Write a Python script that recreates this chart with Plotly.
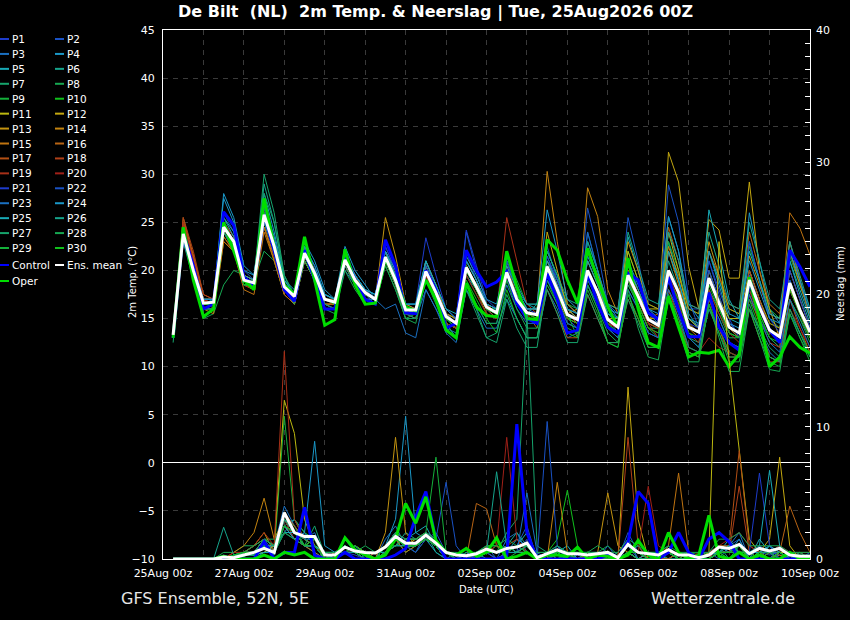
import plotly.graph_objects as go
import pandas as pd

# 6-hourly steps from 25Aug 06z to 10Sep 00z
times = pd.date_range("2026-08-25 06:00", periods=64, freq="6h")

# 2m temperature (deg C)
T_ENS = [13.3,23.8,20.0,16.6, 16.7,24.5,23.0,19.0, 18.7,25.8,22.5,18.3, 17.3,21.8,19.7,17.0, 16.7,21.1,19.0,17.7, 17.0,21.4,19.0,15.9, 15.9,19.9,17.7,15.2, 14.5,20.3,18.3,16.2, 15.6,19.8,17.0,15.6, 15.4,20.4,18.0,15.4, 14.9,20.0,17.7,14.9, 14.1,19.5,17.3,14.9, 14.3,20.0,17.7,14.1, 13.6,19.2,16.6,14.1, 13.5,19.0,16.2,13.8, 13.1,18.7,15.9,13.6]
T_CTRL = [13,24,20.5,16, 16.5,26.1,24.7,19.3, 18.5,25.8,22,18, 16.8,22.1,19,16, 16,21.4,19,17, 16.5,23.2,20.5,15.6, 15.5,20,18,14, 14.5,22.1,20,18.3, 18.8,19.9,16.6,15, 14.5,19.7,17,13.5, 13.8,19.7,16.6,14.1, 13.5,19.7,19,15.6, 14.9,19.3,15.9,13.1, 13.1,17.7,14.1,12.5, 11.7,18.7,16.2,13.8, 12.5,22.1,20.4,18.3]
T_OPER = [13,24.5,19,15.2, 16,25,22,19, 18,27.5,22.5,18.5, 17.5,23.5,19,14.3, 14.9,22.2,18.5,16.5, 16.6,21.3,19,16.2, 15.8,19,17,13.8, 13,18.7,16.2,15.3, 15.2,22,18.3,15, 14.9,23.2,22.1,19, 16.6,22.3,19,16.2, 14.1,21.3,16,12.5, 12,17.3,14.1,11, 11.5,11.4,11.7,10, 11.3,19.3,14.9,10, 11,13.1,12,11.4]

T_P1 = [13,24,21,17, 17,26,24,19.5, 19,27,23,18.5, 17.5,23,20,17, 16.5,22,19.5,17.5, 16.5,22.5,20,16.5, 16,21,18,15, 14,22,19,16, 15,21,18,15, 14.5,21.5,18.5,15, 14,19,17,14, 13,18,16,13.5, 13,22,19,15, 14,21,18,15, 13,20,17,14, 12.5,20,17,14]
T_P2 = [13.5,23.5,20,16.5, 16.5,25,23,19, 18.5,26,22,18, 17,22,20,17.5, 17,21,19.5,18, 17.5,22,19.5,16, 16,20,17.5,15, 14.5,24,20,16.5, 16,20,16.5,15, 15,22.5,19,16, 15,24,20,16, 15,21,18,15.5, 15,24,21,16, 16,21,17.5,14, 13,17,15,13, 12,22,19,16]
T_P3 = [13,24.5,20.5,16.5, 16.5,24,22.5,18.5, 18.5,25,22,18, 17,21,19,16.5, 16,20.5,18.5,17, 17,21,18.5,15.5, 15,18,16,13.5, 12.5,18,16,14, 14,17,15,13, 13,18,16,13, 13.5,24,20,15, 13.5,19,16,12.5, 12,18,15.5,12, 11.5,16,14,11.5, 11,16,14,11.5, 10.5,15.5,13.5,11.5]
T_P4 = [13,23,20,17, 17,27.5,25,20, 19.5,28,24,19, 18,23,21,18, 17,22.5,20,18.5, 17,22,19.5,16, 16,20.5,18,15.5, 14.5,19.5,18,16, 16,20,17,16, 16,21,19,16.5, 15.5,23,20,16.5, 15,20,17.5,15.5, 14.5,25.6,22,15.5, 14,20,17,14.5, 14,26,21,16, 14.5,23,19,15]
T_P5 = [13.5,24,20,16.5, 16.5,25.5,24,19.5, 19,26.5,23,18.5, 17.5,22.5,20,17, 16.5,21,19,17.5, 17,21,19,16, 16,20,18,15.5, 15,21,19,16.5, 16,21,18,16.5, 16,22,19.5,16, 15,21,18.5,15.5, 14.5,23.5,20,16, 15,23,19,15, 14,22,18.5,15, 14.5,23,19,15, 14,21,17.5,14.5]
T_P6 = [13,23.5,19.5,16, 16,24,22,18.5, 18.5,29,25,19, 17.5,22,20,17, 17,21.5,19,17.5, 17,21,19,16, 16,20,17.5,15, 14,20,18,16, 15.5,19.5,17,15.5, 15.5,20,17.5,15, 15,20,17.5,15, 14,19,17,14.5, 14,21,18,14, 13.5,18,16,13.5, 13,20,17,14, 13,19,16,13.5]
T_P7 = [12.5,24,20.5,17, 17,25,23.5,19, 19,28,25,19.5, 17,21.5,19.5,16.5, 16,20.5,18.5,17, 17,21,18.5,15, 15,19,17,14.5, 13,18,16,13, 12.5,17,14,12, 12,19,17,14.5, 14,19,17,14, 13,18.5,16.5,14, 14,19,16.5,13, 12.5,17,15,12.5, 12,16,14,12, 11,17,15,13]
T_P8 = [13,23,19,15, 15.5,18.5,20,19.5, 19,22,21,17.5, 16.5,21,19,16, 16,20.5,18.5,17, 16.5,20.5,18,15, 15.5,19,17,14.5, 14,19.5,17.5,15.5, 15,19,16.5,15, 15,19.5,17,15, 14.5,20,17.5,14.5, 13.5,18.5,16.5,14, 13,19,16.5,13, 12,18,15.5,13, 13,18,15.5,13, 12,17,15,12.5]
T_P9 = [13,24,20.5,16.5, 16.5,24.5,23,19, 18.5,25.5,22,18, 17,22.5,20,17, 17,21,19,18, 17,21.5,19,16, 15.5,19.5,17.5,15, 14.5,20,18,16, 16,21.5,19,16.5, 16.5,22,19.5,16.5, 16,22,19.5,16.5, 15.5,22,19,16.5, 16,23,20,16, 15.5,22,19,16, 15.5,22.5,19,16, 15,21.5,18.5,15.5]
T_P10 = [13.5,24,20,16.5, 16.5,25,23,19, 18.5,26,22.5,18, 17,21.5,19.5,17, 16.5,21,19,17.5, 17,21,19,16, 15.5,20,17.5,15, 14,19,17,15, 13.5,18,15,13, 13,19,16.5,13.5, 13,18.5,16,12.5, 12,17.5,15,12.5, 12,17,14.5,11.5, 11,16.5,14,11.5, 11,17,14,11, 10.5,16,13.5,11.5]
T_P11 = [13.5,24.5,21,17, 17,24.5,23,19.5, 19,26,22.5,18.5, 17.5,22,20,17.5, 17,21.5,19.5,17.5, 17,22,19.5,16, 16,20.5,18,15.5, 15,21,19,16.5, 16,21,18,16, 16,20,17,15, 14.5,20,18,15, 15,22,19,16, 16,24,20,15, 14,19,17,15, 15,20,17,14.5, 14,18,16,14]
T_P12 = [13,24,20,16.5, 16.5,24,22.5,18.5, 18.5,25,22,18, 17,21,19,16.5, 16.5,21,19,17.5, 17,21,18.5,15.5, 15.5,19.5,17,14.5, 14,20,18,16, 15.5,20,17,15.5, 15.5,24,20,16, 15,22,19,15, 14.5,20,18,15, 15,32.3,29.2,20.4, 16,25.3,24.2,19.2, 19.2,29.2,20,16, 13,20,17,14]
T_P13 = [13.5,25,21.5,17, 17,23.5,22,18.5, 18,24.5,21.5,18, 16.5,21.5,19.5,17, 16.5,21,19,17.5, 17,25.5,21.5,16.5, 16,21,18.5,15.5, 15,20.5,18.5,16.5, 15.5,20,17,15.5, 15,20,18,15.5, 16,22,19.5,16.5, 16,23,20,16.5, 16,22.5,19.5,16, 15.5,23,19.5,16, 15.5,21.5,18.5,15.5, 15,22,18.5,15.5]
T_P14 = [13,24,20,16, 15.5,23,22,18.5, 18,24.5,21,17.5, 16.5,21.5,19.5,17, 16.5,21,19,17.5, 17,22,19.5,16, 15.5,20,17.5,15, 14.5,20,18,16, 15.5,20,17.5,16, 16,30.3,23,16.5, 15.5,28.6,25.6,18, 15.5,20,17.5,15, 14.5,22,18.5,14.5, 13.5,20,17,14.5, 13.5,19.5,16.5,13.5, 13,18,15.5,13]
T_P15 = [13.5,25.5,21.5,17, 16,23,22,18, 17.5,24,21,17.5, 16.5,21,19,16.5, 16.5,20.5,18.5,17, 16.5,21,18.5,15.5, 15.5,19.5,17.5,14.5, 14,20,18,15.5, 15,19.5,17,15, 15,20,17.5,15, 14.5,19.5,17,14.5, 14,19,17,14.5, 14,19,17,14, 13,19,16.5,14, 13,19,16,13.5, 13.5,26,24.4,21.6]
T_P16 = [13,25,21,17, 16.5,23.5,22,18.5, 18,24.5,21.5,17.5, 16.5,21,19,16.5, 16.5,21,19,17.5, 17,21.5,19,16, 15.5,20,17.5,15, 14.5,20.5,18.5,16, 15,19.5,17,15, 15,21,18.5,15.5, 14.5,21,18.5,15, 14,20,17.5,15, 15.5,24.5,21,16.5, 16,22,19.5,16.5, 16,24,20,16.5, 15.5,23,19,15]
T_P17 = [13,25,21.5,17.5, 17,24.5,23,19, 18.5,25.5,22.5,18.5, 17,22,20,17, 16.5,21.5,19.5,17.5, 17,22,19.5,16, 16,20,18,15.5, 14.5,20.5,18.5,16, 15.5,20,17,15.5, 14,18,15.5,13, 13,17.5,15,12.5, 12.5,17,15,12, 12,18,15,11.5, 11,17,14,11, 11,17.5,14.5,11, 10.5,17,14,11.5]
T_P18 = [13.5,25.5,22,17.5, 17,25,23.5,19.5, 19,26,23,18.5, 17.5,22.5,20,17, 17,21.5,19.5,18, 17,21.5,19,16, 16,20,17.5,15, 14.5,20,18,16, 15.5,20.5,17.5,15.5, 15.5,20.5,18,15.5, 15,20,17.5,15, 14,20,17.5,14.5, 14,19.5,17,14, 13.5,19,16.5,14, 13.5,20,17,14, 13,18.5,16,13.5]
T_P19 = [13,25,21,17, 16.5,25,23.5,19, 18.5,26.5,23,18.5, 17,22,20,17, 16.5,21,19,17.5, 17,21.5,19,16, 15.5,20,17.5,15, 14.5,20.5,18.5,16.5, 15.5,25.5,21,16.5, 15.5,20,17.5,15, 14.5,19.5,17,14.5, 14,19,16.5,14, 13.5,19,16.5,13.5, 12.5,18,15.5,13.5, 12.5,18,15,12.5, 12,18,15.5,13]
T_P20 = [13,24.5,21,17, 16.5,24,22.5,18.5, 18,25,22,18, 17,21.5,19.5,16.5, 16,20.5,18.5,17, 16.5,21,18.5,15.5, 15,19.5,17,14.5, 14,19.5,17.5,15.5, 15,19.5,17,15, 15,20,17.5,15, 14.5,19.5,17,14.5, 14,19,17,14.5, 13,17,14.5,12, 11.5,13,12,11.5, 11,16,13,10.5, 10.5,16,14,12]
T_P21 = [13,23.5,20.5,16.5, 16.5,25,23,19, 18.5,25.5,22.5,18.5, 17.5,22,20,17.5, 17,21.5,19.5,18, 17.5,22.5,20,16.5, 16.5,23.4,19.5,16, 15,24.2,20.5,17, 16,21,18,16, 15.5,20.5,18,15.5, 15,20,17.5,15, 14.5,19.5,17,15, 14.5,20,17.5,14.5, 14,19,16.5,14, 13.5,23,19,15, 13.5,20,17,14]
T_P22 = [13.5,24,20.5,17, 17,26,24.5,20, 19,26.5,23,18.5, 17.5,22.5,20.5,17.5, 17,21.5,19.5,18, 17,22,19.5,16, 16,20.5,18,15.5, 14.5,21,19,16.5, 16,21,18,16, 16,21.5,19,16, 15.5,26.5,22,16.5, 15.5,25.5,21,16, 15,28.9,25,17, 14,20,17,14.5, 13.5,19.5,16.5,14, 13,19,16,13.5]
T_P23 = [13,23,19.5,16, 16,24,22.5,18.5, 18.5,25,22,18, 17,21.5,19.5,16.5, 16,20,18.5,17, 17,16,16.5,13.5, 13,18,16,14, 13.5,18,16.5,14.5, 14.5,18.5,16,14.5, 14.5,19,17,14.5, 14,18.5,16.5,14, 13,18,16,13.5, 13,18,16,13, 12,17,15,12.5, 12,17.5,15,12.5, 11.5,17,14.5,12]
T_P24 = [13,24,20.5,17, 17,28,25.5,20.5, 19.5,27,23.5,19, 17.5,22.5,20.5,17.5, 17,21.5,19.5,18, 17.5,22,20,16.5, 16.5,21,18.5,16, 15,21.5,19.5,17, 16.5,21.5,18.5,16.5, 16.5,26.3,22,17, 16,21.5,19,16, 15.5,21,18.5,16, 15.5,25.6,22,16.5, 15,22,19,15.5, 15,21,18,15, 14.5,22,19,15.5]
T_P25 = [13.5,24,20,16.5, 17,25.5,23.5,19.5, 19,26,23,18.5, 17.5,22,20,17.5, 17,21,19.5,18, 17.5,22,19.5,16.5, 16.5,21,18.5,16, 15.5,21,19,16.5, 16,20.5,18,16, 16,21,18.5,16, 15.5,21,18.5,15.5, 15,20.5,18,15.5, 15,22,19,15, 14.5,26.3,22,17, 15,22,19,15.5, 15,21,18,15]
T_P26 = [13,23.5,20,16.5, 16.5,24.5,23,19, 18.5,25,22,18, 17,21.5,19.5,17, 16.5,21,19,17.5, 17,21,19,16, 16,20,17.5,15, 14.5,20,18,16, 15.5,20,17.5,15.5, 16.5,22,19.5,17, 16.5,23,20,16.5, 16,24,20.5,17, 16.5,24,21,16.5, 16,24,20.5,16.5, 16,25,21,17, 16,23,19.5,16]
T_P27 = [13,24,20.5,16.5, 16.5,24.5,22.5,18.5, 19,30,26,19.5, 17.5,21.5,19,16.5, 16,20.5,18.5,17, 16.5,21,18.5,15.5, 15,19,17,14.5, 13,18,15.5,13, 13.5,17.5,15,13, 13,18,15.5,12.5, 12.5,17.5,15,12.5, 12.5,17,14.5,12, 12,17.5,15,12, 11.5,16,13.5,11, 11,16.5,13.5,11, 10.5,16,13.5,11]
T_P28 = [13,24,20,16, 16,24,22,18.5, 18.5,25,22,18, 16.5,21,19,16, 15.5,20,18,16.5, 16.5,20.5,18,15, 14.5,19,16.5,14, 13,18.5,16.5,14.5, 14.5,19,16,14, 14,18.5,16.5,14, 13.5,18.5,16,13.5, 12.5,18,14,11, 10.7,17,14,10.5, 10.5,16.5,13,9.5, 9.5,16,13,9.7, 9.5,15.5,13,11]
T_P29 = [13,24,20.5,16.5, 16.5,25,23,19, 18.5,26,22.5,18, 17,22,19.5,17, 16.5,21,19,17.5, 17,21.5,19,16, 15.5,20,17.5,15, 14.5,20.5,18.5,16, 15.5,20,17,15.5, 15.5,20.5,18,15.5, 13,18,15.5,12.5, 12,17.5,15,12, 12,17.5,14.5,11.5, 11,16.5,13.5,10.5, 10.5,16,13,10.5, 10,15.5,13,10.5]
T_P30 = [13,23.5,20,16.5, 16.5,24.5,22.5,18.5, 18.5,25.5,22,18, 17,21.5,19.5,17, 16.5,21,19,17.5, 17,21,19,16, 15.5,20,17.5,15, 14.5,20,18,16, 15.5,19.5,17,15.5, 15,20,17.5,15, 14.5,19.5,17,14.5, 13.5,19,16.5,14, 13.5,19,17,13.5, 13,18.5,16,13.5, 13,18.5,15.5,13, 12.5,18,15.5,13]

# precipitation per 6 h (mm)
R_ENS = [0,0,0,0, 0,0.15,0.1,0.3, 0.5,0.8,0.5,3.5, 2.0,1.7,1.7,0.3, 0.3,0.9,0.6,0.5, 0.45,0.9,1.7,1.2, 1.2,1.8,1.2,0.5, 0.3,0.25,0.4,0.75, 0.5,0.8,0.9,1.2, 0.1,0.4,0.7,0.4, 0.4,0.3,0.4,0.5, 0.1,1.1,0.5,0.4, 0.3,0.7,0.3,0.3, 0.1,0.3,0.9,0.8, 1.1,0.4,0.8,0.6, 0.8,0.3,0.2,0.2]
R_CTRL = [0,0,0,0, 0,0,0,0, 0,1.3,0,0.5, 0.5,3.9,0.3,0, 0,0.5,0,0, 0,0,0.3,0.8, 3.2,5.1,1.4,0, 0,0,0,0, 0,0.2,10.2,2, 0,0,0,0, 0,0,0,0.3, 0,1.3,5.1,4.2, 0,0.5,2,0.5, 0,1.5,2,1.3, 0,0,0,0, 0,0,0,0]
R_OPER = [0,0,0,0, 0,0.2,0,0, 0,0.3,0,0.5, 0.3,0.5,0,0, 0,1.6,0.7,0.3, 0,0.3,1.5,4.2, 2.7,4.7,1.4,0.5, 0.3,0.8,0.2,0.5, 1.6,0,0.2,0.5, 0,0.3,0.3,0.2, 0.9,0,0.3,0.2, 0,0.3,1.4,0.3, 0,2,0.5,0, 0.3,3.3,0.2,0, 0.5,0,0.3,0, 0,0.5,0,0]

R_P1 = [0,0,0,0, 0,0,0.2,0.3, 0.5,1,0.5,3, 2,1,1.5,0, 0,0.5,0.3,0, 0,1,2,1, 1,2,1,0, 0,0,0.3,0.5, 0.5,1,0.5,1.5, 0,0.3,0.5,0, 0,0,0.5,0.3, 0,1,0.5,0, 0,0.5,0,0, 0,0,1,0.5, 1,0,0.5,0.3, 0.5,0,0,0]
R_P2 = [0,0,0,0, 0,0,0.2,0.5, 1,1.5,0.5,2.5, 1.5,2,1,0, 0.5,1,0.5,0, 0.5,0.5,1.5,1, 1,1.5,2,0.5, 0,0,0,1, 0.5,0.5,1,2.5, 0,0.5,1,0, 0.3,0,0,1, 0,2,0.5,0, 0.5,1,0,0.5, 0,0,0.5,1, 1.5,0,1,0.5, 0.3,0,0,0.5]
R_P3 = [0,0,0,0, 0,0.3,0,0.5, 0.3,0.8,1,4, 2.5,1.5,2,0.3, 0,1,0.5,0.5, 0,1.5,2.5,1, 0.5,2,1,0, 0,0.5,0,1, 0,1.5,2,0.5, 0,0,1,0.5, 0.5,0,0.5,0, 0,0.5,0,0.5, 0,0,0.5,0, 0,0.5,0,1, 2,0,0.5,0, 1,0,0,0]
R_P4 = [0,0,0,0, 0,0,0,0.3, 0.3,0.5,0.5,2, 3,2,1,0.5, 0.5,0.5,1,0.5, 0,1,3,10.8, 2,1.5,0.5,0, 0,0.3,0,0.5, 1,0.5,1.5,1, 0,0.5,0.3,0, 0,0.5,0,0, 0.5,1.5,0,0, 0.3,0,0,0, 0,0.5,1,0.5, 1.5,0,0.5,1, 0,0.3,0,0]
R_P5 = [0,0,0,0, 0,0,0,0, 0,0.5,1,3.5, 2,1,0.5,0, 0,0.5,1,0.5, 0.5,0.5,1,1.5, 2,2.5,1,0.5, 0,0,0.5,0, 0,0.5,1,2, 0.3,0,0.5,1, 0,0.5,0.5,0, 0,0.5,1,0, 0,1,0,0, 0,0,0.5,1.5, 0.5,0,1.5,0.5, 1,0,0.3,0]
R_P6 = [0,0,0,0, 0,0,0.3,0.2, 0.5,1,0.3,2.5, 3,1.5,1,0, 0.3,1,0.5,0, 0,0.5,1,2, 1.5,2,0.5,0, 0.5,0,0,1, 0.5,1,2,1, 0,0,0.3,0.5, 0.5,0,0,0.5, 0,1,0.5,0.5, 0,0,0.5,0, 0.3,0,1,0, 0.5,0.5,0,1, 0.5,0,0,0]
R_P7 = [0,0,0,0, 0,0,0,0.5, 0.5,1.5,1,3, 1.5,1,2.5,0.3, 0,1.5,0.5,0, 0.5,1,1.5,0.5, 1,2,1.5,0.5, 0,0,0.5,1, 0.5,2,3,18.5, 1,0.5,0,0.3, 0,0.3,0.5,0, 0,0.5,0,0, 0.5,0,0,0, 0,0.3,0.5,0, 1,0,0.5,0, 0,0,0,0]
R_P8 = [0,0,0,0, 0,0.5,0.5,1, 1,1.5,1.5,3, 2.5,1,1,0.5, 0.5,0.5,0.5,1, 0.5,1,1,1.5, 1.5,1.5,1,0.5, 0.5,0.3,0.5,0.5, 0.5,0.5,1,1, 0.5,0.5,0.5,0.5, 0.5,0.5,0.5,1, 0.3,1,0.5,0.5, 0.5,0.5,0.3,0.5, 0.3,0.5,1,1, 1,0.5,0.5,0.5, 0.5,0.5,0.3,0.3]
R_P9 = [0,0,0,0, 0,0.2,0,0.5, 0.5,1,0.5,10.8, 3,2,1.5,0, 0,1,0.5,0, 0,0.5,2,1, 0.5,1.5,1,0, 0,0,0,0.5, 1,0,0.5,1, 0,0,0.5,0.5, 0,0,0,0.5, 0,0.5,0,0, 0,0,0.5,0, 0,0,0.5,0.5, 1,0,0,0.5, 0,0,0,0]
R_P10 = [0,0,0,0, 0,0,0,0.3, 0.3,0.5,0.5,2, 1.5,1,1,0, 0,0.5,1,0.5, 0,0.5,1,1, 1,1.5,1.5,0.5, 0,0,0,1, 1,0.5,1,0.5, 0,0.5,1.5,5.2, 1,0,0,0.5, 0,0.5,0.5,0, 0,1,0,0, 0,0.5,0.5,0, 0.5,0.5,0,0.5, 0.5,0,0,0]
R_P11 = [0,0,0,0, 0,0,0,0.3, 0.3,0.5,1,12, 9.5,3,1,0, 0,0.5,0.5,0, 0,0.5,1.5,1, 1,2,1,0.5, 0,0,0,0.5, 0.5,1,0.5,0.5, 0,0,0.5,0, 0,0,0,0.5, 0,1,0.5,0, 0,0.5,0,0, 0,0.5,24,15, 8,1.5,0.5,0, 0.5,0.5,0,0]
R_P12 = [0,0,0,0, 0,0,0.2,0.5, 0.5,1,0.5,3, 2,1.5,1,0.5, 0,1,0.5,0.5, 0,1,2,1, 1.5,2,1,0, 0,0,0,0.5, 0.5,1,0.5,1, 0,0,0.5,0, 0,0.5,0,0.5, 0,13,3,0, 0,0.5,0,0, 0,0,0.5,0.5, 0.5,0,0.5,1.5, 7.7,1,0,0]
R_P13 = [0,0,0,0, 0,0,0,0.5, 1,2,0.5,2.5, 1.5,1,1,0, 0.5,1,0.5,0, 0,2,9.2,2, 1,1.5,1,0, 0,0,0,0.5, 0.5,0.5,1,1, 0,0.5,0.5,0, 0,0,0.5,5, 1,0.5,0,0, 0,0.5,0.5,0, 0,0,0.5,1, 0.5,0,0.5,0, 0.5,0,0.5,0]
R_P14 = [0,0,0,0, 0,0,0.5,1, 2,4.6,1.5,3, 2,1,1.5,0, 0,0.5,0.5,0, 0.5,1,1.5,0.5, 1,2,1,0.5, 0,0,0,0.5, 0,0.5,1,0.5, 0,0,5.8,0.5, 0,0,0,0.5, 0,0.5,0,0.5, 0,0,0.5,0, 0,0,0.5,1, 1,0,0.5,0, 0.3,0,0,0]
R_P15 = [0,0,0,0, 0,0,0,0.3, 0.5,1.5,1,2.5, 2,1,0.5,0, 0,0.5,1,0.5, 0,0.5,1,1.5, 1.5,2,1,0, 0,0,0.5,0.5, 0.5,1,0.5,0.5, 0,0.5,0,0, 0,0.3,0,0.5, 0,0.5,0,0.5, 0,1,6.5,0.5, 0,0,0.5,0.5, 1,0,0.5,0.5, 0,0,0,0]
R_P16 = [0,0,0,0, 0,0,0.3,0.5, 0.5,1,0.5,3.5, 2.5,1.5,1,0, 0,1,0.5,0, 0,1,2,1, 1,1.5,1,0.5, 0,0,4.2,3.8, 1,0.5,1,0.5, 0,0.5,0,0.5, 0,0,0.5,0, 0,0.5,0,0, 0,0.5,0,0.5, 0,0,0.5,0.5, 0.5,0.5,0,0.5, 0.5,4,2,0.5]
R_P17 = [0,0,0,0, 0,0,0,0.5, 1,1.5,1,3, 2,1.5,1,0.3, 0,0.5,0.5,0, 0.5,1,1.5,1, 1,2,1,0, 0,0,0.3,0.5, 0.5,0.5,1,1, 0,0,0.5,0, 0,0,0,0.5, 0,0.5,0.5,0, 0,0.5,0,0, 0,0,1,1, 8.2,1,0.5,0, 0,0.5,0,0]
R_P18 = [0,0,0,0, 0,0,0.3,0.5, 0.5,1,0.5,2.5, 2,1,1.5,0, 0,0.5,0.5,0.5, 0,1,1.5,1, 1,1.5,1,0.5, 0,0,0,1, 0.5,1,1.5,0.5, 0,0,0.5,0, 0,0.5,0,0, 0,9.2,1,0, 0,0,0.5,0, 0,0,0.5,0.5, 5.5,0.5,0,0.5, 0.5,0,0,0]
R_P19 = [0,0,0,0, 0,0,0.5,0.5, 1,2,1,15.7, 3,1.5,1,0, 0,1,0.5,0, 0,0.5,1.5,1, 1,1.5,1,0, 0,0,0,0.5, 0.5,0.5,1,1, 0,0,0.5,0.5, 0,0,0,0.5, 0,0.5,0,0, 0,0.5,0,0, 0,0,0.5,0.5, 0.5,0,0.5,0, 0,0,0.5,0]
R_P20 = [0,0,0,0, 0,0,0,0.3, 0.5,1,0.5,3, 1.5,1,1,0, 0,0.5,0.5,0, 0,1,2,1.5, 1,2,1.5,0.5, 0,0,0,0.5, 1,9.2,1.5,0.5, 0,0,0.5,0, 0,0,0.5,0, 0,0.5,0.5,5.5, 1,0.5,0,0, 0.5,0.5,1,1.5, 2,1,0.5,0.5, 1,0.5,0.5,0.5]
R_P21 = [0,0,0,0, 0,0,0,0.3, 0.3,1,0.5,2, 1.5,1,1,0, 0,0.5,0.5,0, 0,1,1.5,1, 0.5,1.5,1,0.5, 0,0,0.5,0.5, 0,0.5,1,0.5, 0,0,0.5,0, 0,0,0,0.5, 0,0.5,0,0, 0,0.5,0,0, 0,0,0.5,1, 1,0.5,6.5,1, 0,0,0.5,0]
R_P22 = [0,0,0,0, 0,0,0.3,0.5, 0.5,1,0.5,2.5, 2,1,1,0, 0,0.5,1,0, 0,1,2,1, 1,2,1.5,5.8, 1,0,0,0.5, 0,0.5,1,0.5, 0,10.4,1,0, 0,0,0,0.5, 0,0.5,0.5,0, 0,0.5,0,0, 0,0,0.5,1, 0.5,0,0.5,0.5, 0,0,0,0]
R_P23 = [0,0,0,0, 0,0,0,0.5, 0.5,1.5,1,3, 2,1.5,1.5,0.3, 0,1,0.5,0, 0,1,2,1.5, 1,2,1,0, 0,0.5,0,0.5, 0.5,1,0.5,5, 0.5,0,0.5,0, 0,0,0.5,0.5, 0,1,0,0, 0,0.5,0,0, 0,0,0.5,0.5, 1,0,0.5,0.5, 0,0,0,0]
R_P24 = [0,0,0,0, 0,0,0,0.3, 0.3,0.5,0.5,2.5, 1.5,2,8.9,1, 0.5,1,0.5,0, 0,0.5,1,1, 1,1.5,1,0.5, 0,0,0,0.5, 0.5,0.5,1,1, 0,0.5,0.5,0, 0,0,0,0.5, 0,0.5,0,0.5, 0,0.5,0,0, 0,0,0.5,0.5, 0.5,0.5,0.5,1, 0.5,0,0,0]
R_P25 = [0,0,0,0, 0,0,0.3,0.3, 0.5,1,1,2, 2,1,1,0.5, 0,0.5,0.5,0.5, 0,1,1.5,1, 1,2,1,0, 0,0,0.5,0.5, 0.5,0.5,0.5,1, 0,0,0.5,0.5, 0,0.5,0,0, 0,0.5,0.5,0, 0,0.5,0,0, 0,0.3,0.5,1, 0.5,0.5,1,6.7, 1,0,0,0]
R_P26 = [0,0,0,0, 0,2.4,0.3,0.5, 0.5,1,0.5,3, 2,1,1,0, 0,0.5,0.5,0, 0,1,1.5,1, 1,1.5,1,0.5, 0,0,0,0.5, 6.6,1,0.5,0.5, 0,0,0.5,0, 0,0,0,0.5, 0,0.5,0,0, 0,0.5,0,0, 0,0,0.5,0.5, 0.5,0,0.5,0.5, 0.5,0,0,0]
R_P27 = [0,0,0,0, 0,0,0,0.5, 0.5,1.5,1,3, 2,1.5,1,0, 0,1,0.5,0, 0,0.5,1,1.5, 1.5,2,1,0, 0,0,0,0.5, 0.5,1,0.5,1, 0,0.5,0,0.5, 0,0,0.5,0, 0,0.5,0.5,0, 0,0.5,0,0, 0,0,0.5,1, 0.5,0,0.5,0.5, 0,0.5,0,0]
R_P28 = [0,0,0,0, 0,0,0.3,0.5, 1,1.5,1,2.5, 2,1,1.5,0.5, 0.5,1,0.5,0.5, 0.5,1,2,1.5, 1.5,2,1.5,0.5, 0,0.5,0.5,1, 1,1.5,1,1, 0.5,0.5,1,0.5, 0.5,0.5,1,0.5, 0.5,1.5,1,0.5, 0.5,1,0.5,0.5, 0.5,0.5,1.5,1.5, 2,1,1,1, 1,0.5,0.5,0.5]
R_P29 = [0,0,0,0, 0,0,0,0.3, 0.3,1,0.5,2, 1.5,1,1,0, 0,1,0.5,0, 0,0.5,1.5,1, 1,2,7.7,0.5, 0,0,0,0.5, 0.5,0.5,1,1, 0,0.5,0.5,0, 0,0,0,0.5, 0,0.5,0,0, 0,0.5,0,0, 0,0,0.5,0.5, 0.5,0.5,0,0.5, 0,0,0.5,0]
R_P30 = [0,0,0,0, 0,0,0.3,0.5, 0.5,1,0.5,2.5, 2,1,1.5,0, 0,0.5,1,0.5, 0,1,1.5,1, 1,1.5,1,0, 0,0,0.5,0.5, 0.5,0.5,1,0.5, 0,0,0.5,0.5, 0,0.5,0,0, 0,0.5,0.5,0, 0,0.5,0,0.5, 0,0,0.5,0.5, 1,0,0.5,0, 0.5,0,0,0]

temp_members = [T_P1, T_P2, T_P3, T_P4, T_P5, T_P6, T_P7, T_P8, T_P9, T_P10,
                T_P11, T_P12, T_P13, T_P14, T_P15, T_P16, T_P17, T_P18, T_P19, T_P20,
                T_P21, T_P22, T_P23, T_P24, T_P25, T_P26, T_P27, T_P28, T_P29, T_P30]
rain_members = [R_P1, R_P2, R_P3, R_P4, R_P5, R_P6, R_P7, R_P8, R_P9, R_P10,
                R_P11, R_P12, R_P13, R_P14, R_P15, R_P16, R_P17, R_P18, R_P19, R_P20,
                R_P21, R_P22, R_P23, R_P24, R_P25, R_P26, R_P27, R_P28, R_P29, R_P30]

base_cols = ['#1e3ccc', '#1a52c4', '#1a70c2', '#1a98c8', '#18aab6',
             '#16a48c', '#16a46c', '#16a852', '#14b03a', '#10c01c']
warm_cols = ['#bcb810', '#c4a810', '#c49410', '#c48410', '#c07410',
             '#b86414', '#b45014', '#b04018', '#a83018', '#a02018']
member_cols = base_cols + warm_cols + base_cols

CTRL_COL = '#0000ff'
OPER_COL = '#00dd00'
MEAN_COL = '#ffffff'
FONT = 'DejaVu Sans'

for k, (t, r) in enumerate(zip(temp_members, rain_members)):
    if len(t) != 64 or len(r) != 64:
        raise ValueError(f'P{k+1}: {len(t)} / {len(r)}')

fig = go.Figure()

for k in range(30):
    fig.add_trace(go.Scatter(x=times, y=temp_members[k], mode='lines', name=f'P{k+1}',
                             line=dict(color=member_cols[k], width=1), showlegend=False))
for k in range(30):
    fig.add_trace(go.Scatter(x=times, y=rain_members[k], mode='lines', yaxis='y2',
                             line=dict(color=member_cols[k], width=1), showlegend=False))

for t, r, col in [(T_CTRL, R_CTRL, CTRL_COL), (T_OPER, R_OPER, OPER_COL), (T_ENS, R_ENS, MEAN_COL)]:
    fig.add_trace(go.Scatter(x=times, y=t, mode='lines', line=dict(color=col, width=3), showlegend=False))
    fig.add_trace(go.Scatter(x=times, y=r, mode='lines', yaxis='y2',
                             line=dict(color=col, width=3), showlegend=False))


# pixel -> paper helpers (plot area 163..810 x 30..559)
def px(x):
    return (x - 163) / 647


def py(y):
    return (559 - y) / 529


# hand-made two-column legend
entries = []
for k in range(15):
    entries.append((f'P{2*k+1}', member_cols[2*k], 0, 39 + 14.93 * k))
    entries.append((f'P{2*k+2}', member_cols[2*k+1], 55, 39 + 14.93 * k))
entries.append(('Control', CTRL_COL, 0, 265))
entries.append(('Ens. mean', MEAN_COL, 55, 265))
entries.append(('Oper', OPER_COL, 0, 281))

shapes = []
annotations = []
for label, col, x0, y0 in entries:
    shapes.append(dict(type='line', xref='paper', yref='paper',
                       x0=px(x0), x1=px(x0 + 9), y0=py(y0), y1=py(y0),
                       line=dict(color=col, width=2)))
    annotations.append(dict(text=label, xref='paper', yref='paper', x=px(x0 + 10), y=py(y0),
                            xanchor='left', yanchor='middle', showarrow=False,
                            font=dict(family=FONT, size=10.5, color='white')))

annotations.append(dict(text='<b>De\u00a0Bilt\u00a0\u00a0(NL)\u00a0\u00a02m\u00a0Temp.\u00a0&amp;\u00a0Neerslag\u00a0|\u00a0Tue,\u00a025Aug2026\u00a000Z</b>',
                        xref='paper', yref='paper', x=px(435), y=py(12),
                        xanchor='center', yanchor='middle', showarrow=False,
                        font=dict(family=FONT, size=16, color='white')))
annotations.append(dict(text='GFS Ensemble, 52N, 5E', xref='paper', yref='paper',
                        x=px(119), y=py(598), xanchor='left', yanchor='middle', showarrow=False,
                        font=dict(family=FONT, size=16, color='#e6e6e6')))
annotations.append(dict(text='Wetterzentrale.de', xref='paper', yref='paper',
                        x=px(649), y=py(598), xanchor='left', yanchor='middle', showarrow=False,
                        font=dict(family=FONT, size=16, color='#e6e6e6')))
# axis titles
annotations.append(dict(text='2m Temp. (°C)', xref='paper', yref='paper', x=px(132), y=py(282),
                        textangle=-90, xanchor='center', yanchor='middle', showarrow=False,
                        font=dict(family=FONT, size=10, color='white')))
annotations.append(dict(text='Neerslag (mm)', xref='paper', yref='paper', x=px(840), y=py(283),
                        textangle=-90, xanchor='center', yanchor='middle', showarrow=False,
                        font=dict(family=FONT, size=10, color='white')))
annotations.append(dict(text='Date (UTC)', xref='paper', yref='paper', x=px(486), y=py(589),
                        xanchor='center', yanchor='middle', showarrow=False,
                        font=dict(family=FONT, size=10, color='white')))

grid_col = '#3a3a3a'
fig.update_layout(
    width=850, height=620,
    margin=dict(l=163, r=40, t=30, b=61),
    paper_bgcolor='black', plot_bgcolor='black',
    font=dict(family=FONT, size=11, color='white'),
    showlegend=False,
    shapes=shapes,
    annotations=annotations,
    xaxis=dict(
        type='date',
        range=['2026-08-25 00:00', '2026-09-10 00:00'],
        tick0='2026-08-25', dtick=2 * 86400000,
        tickformat='%d%b %Hz',
        tickfont=dict(size=11, color='white'),
        showgrid=True, gridcolor=grid_col, griddash='5px,5px', gridwidth=1,
        minor=dict(dtick=86400000, showgrid=True, gridcolor=grid_col, griddash='5px,5px'),
        showline=True, linecolor='white', linewidth=1, mirror=True,
        ticks='', automargin=False, ticklabelstandoff=4,
    ),
    yaxis=dict(
        range=[-10, 45], dtick=5,
        tickfont=dict(size=11, color='white'),
        showgrid=True, gridcolor=grid_col, griddash='5px,5px', gridwidth=1,
        zeroline=True, zerolinecolor='white', zerolinewidth=1,
        showline=True, linecolor='white', linewidth=1, mirror=True,
        ticks='', automargin=False, ticklabelstandoff=5,
    ),
    yaxis2=dict(
        overlaying='y', side='right',
        range=[0, 40], dtick=10,
        tickfont=dict(size=11, color='white'),
        showgrid=False, zeroline=False, showline=False,
        ticks='inside', ticklen=5, tickcolor='white',
        minor=dict(dtick=1, ticks='inside', ticklen=5, tickcolor='white'),
        automargin=False, ticklabelstandoff=5,
    ),
)

fig.write_html("out.html", config={'displayModeBar': False},
               post_script="document.body.style.margin='0';")
